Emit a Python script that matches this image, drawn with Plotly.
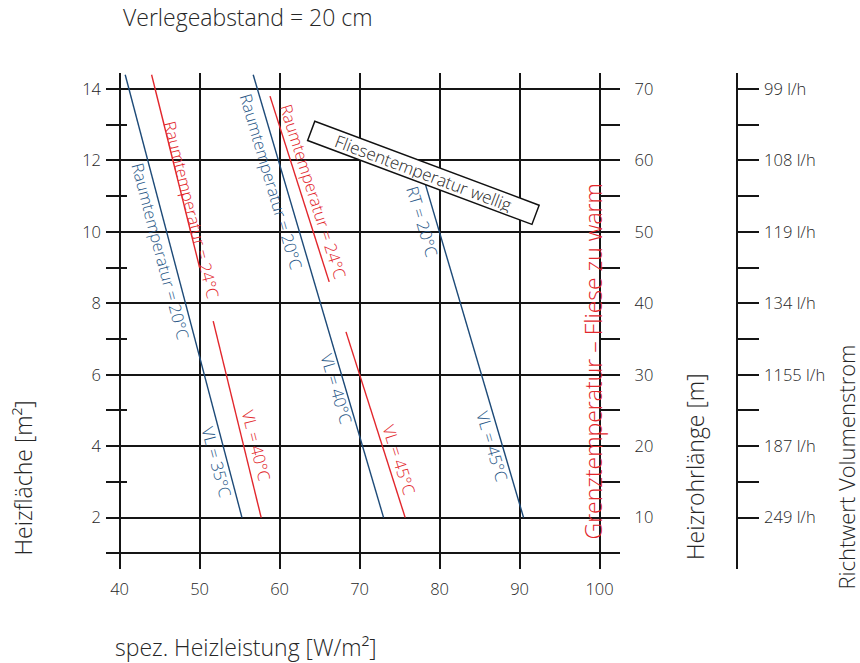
import plotly.graph_objects as go

# ---- Kennlinien: spez. Heizleistung [W/m²] (x) gegen Heizfläche [m²] (y) ----
# Raumtemperatur 20 °C (blau)
rt20_vl35_x = [40.7, 55.3]
rt20_vl35_y = [14.4, 2.0]
rt20_vl40_x = [56.7, 73.0]
rt20_vl40_y = [14.4, 2.0]
rt20_vl45_x = [78.2, 90.5]
rt20_vl45_y = [11.35, 2.0]

# Raumtemperatur 24 °C (rot), jeweils oberer und unterer Abschnitt
rt24_vl40_oben_x = [44.0, 50.0]
rt24_vl40_oben_y = [14.4, 9.0]
rt24_vl40_unten_x = [51.7, 57.7]
rt24_vl40_unten_y = [7.5, 2.0]
rt24_vl45_oben_x = [58.8, 66.2]
rt24_vl45_oben_y = [13.8, 8.6]
rt24_vl45_unten_x = [68.3, 75.7]
rt24_vl45_unten_y = [7.2, 2.0]

# ---- Achsen ----
leistung_ticks = [40, 50, 60, 70, 80, 90, 100]
flaeche_ticks = [1, 2, 4, 6, 8, 10, 12, 14]
flaeche_labels = ["", "2", "4", "6", "8", "10", "12", "14"]
rohr_ticks = [2, 4, 6, 8, 10, 12, 14]
rohr_labels = ["10", "20", "30", "40", "50", "60", "70"]
volumen_ticks = list(range(2, 15))
volumen_labels = ["249 l/h", "", "187 l/h", "", "1155 l/h", "", "134 l/h", "",
                  "119 l/h", "", "108 l/h", "", "99 l/h"]

FONT = "Open Sans"
WEIGHT = 300
GREY = "#262626"
BLUE = "#1d4a78"
BLUE_TXT = "#2a5988"
RED = "#e2262c"
GRID = "#151515"

X_RANGE = [38.3, 102.49]
Y_RANGE = [0.562, 14.448]

W, H = 860, 663
ML, MR, MT, MB = 106, 10, 73, 94
PW, PH = W - ML - MR, H - MT - MB


def px(xp):
    return (xp - ML) / PW


def py(yp):
    return (H - MB - yp) / PH


fig = go.Figure()

blue_sets = [(rt20_vl35_x, rt20_vl35_y), (rt20_vl40_x, rt20_vl40_y),
             (rt20_vl45_x, rt20_vl45_y)]
red_sets = [(rt24_vl40_oben_x, rt24_vl40_oben_y), (rt24_vl40_unten_x, rt24_vl40_unten_y),
            (rt24_vl45_oben_x, rt24_vl45_oben_y), (rt24_vl45_unten_x, rt24_vl45_unten_y)]

for xs, ys in blue_sets:
    fig.add_trace(go.Scatter(x=xs, y=ys, mode="lines",
                             line=dict(color=BLUE, width=1.4),
                             hoverinfo="skip", showlegend=False))
for xs, ys in red_sets:
    fig.add_trace(go.Scatter(x=xs, y=ys, mode="lines",
                             line=dict(color=RED, width=1.4),
                             hoverinfo="skip", showlegend=False))

# Dummy traces so that the secondary axes are rendered
fig.add_trace(go.Scatter(x=[None], y=[None], yaxis="y2", showlegend=False, hoverinfo="skip"))
fig.add_trace(go.Scatter(x=[None], y=[None], yaxis="y3", showlegend=False, hoverinfo="skip"))

# Line labels (text, x, y, angle, colour)
line_labels = [
    ("Raumtemperatur = 20°C", 45.18, 9.46, 75.2, BLUE_TXT),
    ("Raumtemperatur = 24°C", 49.1, 10.61, 76.0, RED),
    ("Raumtemperatur = 20°C", 59.01, 11.42, 73.6, BLUE_TXT),
    ("Raumtemperatur = 24°C", 64.2, 11.12, 72.3, RED),
    ("RT = 20°C", 77.86, 10.29, 73.5, BLUE_TXT),
    ("VL = 35°C", 52.14, 3.57, 75.2, BLUE_TXT),
    ("VL = 40°C", 57.1, 4.01, 76.0, RED),
    ("VL = 40°C", 67.14, 5.62, 73.6, BLUE_TXT),
    ("VL = 45°C", 75.0, 3.64, 72.3, RED),
    ("VL = 45°C", 86.61, 3.99, 73.5, BLUE_TXT),
]
annotations = []
for txt, x, y, ang, col in line_labels:
    annotations.append(dict(text=txt, x=x, y=y, xref="x", yref="y", showarrow=False,
                            textangle=ang, xanchor="center", yanchor="middle",
                            font=dict(family=FONT, size=16.5, color=col, weight=WEIGHT)))

# Hinweisbox
annotations.append(dict(text="Fliesentemperatur wellig", x=78.03, y=11.66, xref="x", yref="y",
                        showarrow=False, textangle=20.5, width=236, height=17,
                        bgcolor="white", bordercolor="#111", borderwidth=1.5, borderpad=1,
                        font=dict(family=FONT, size=17, color=GREY, weight=WEIGHT)))

# Titles
title_font = dict(family=FONT, size=23, color=GREY, weight=WEIGHT)
annotations += [
    dict(text="Verlegeabstand = 20 cm", x=px(248), y=py(17), xref="paper", yref="paper",
         showarrow=False, xanchor="center", yanchor="middle", font=title_font),
    dict(text="spez. Heizleistung [W/m²]", x=px(246), y=py(647), xref="paper", yref="paper",
         showarrow=False, xanchor="center", yanchor="middle", font=title_font),
    dict(text="Heizfläche [m²]", x=px(22.5), y=py(478), xref="paper", yref="paper",
         showarrow=False, xanchor="center", yanchor="middle", textangle=-90,
         font=title_font),
    dict(text="Grenztemperatur – Fliese zu warm", x=px(592), y=py(361.5), xref="paper",
         yref="paper", showarrow=False, xanchor="center", yanchor="middle", textangle=-90,
         font=dict(family=FONT, size=23, color=RED, weight=WEIGHT)),
    dict(text="Heizrohrlänge [m]", x=px(695), y=py(467), xref="paper", yref="paper",
         showarrow=False, xanchor="center", yanchor="middle", textangle=-90,
         font=title_font),
    dict(text="Richtwert Volumenstrom", x=px(845), y=py(467.5), xref="paper", yref="paper",
         showarrow=False, xanchor="center", yanchor="middle", textangle=-90,
         font=dict(family=FONT, size=22, color=GREY, weight=WEIGHT)),
]

tick_font = dict(family=FONT, size=16.5, color=GREY, weight=WEIGHT)
x_dom_end = (619.5 - ML) / PW

fig.update_layout(
    width=W, height=H,
    margin=dict(l=ML, r=MR, t=MT, b=MB),
    paper_bgcolor="white", plot_bgcolor="white",
    showlegend=False,
    annotations=annotations,
    xaxis=dict(domain=[0, x_dom_end], range=X_RANGE, tickvals=leistung_ticks,
               showgrid=True, gridcolor=GRID, gridwidth=1.6, zeroline=False,
               showline=False, ticks="", tickfont=tick_font, ticklabelstandoff=8,
               fixedrange=True),
    yaxis=dict(range=Y_RANGE, tickvals=flaeche_ticks, ticktext=flaeche_labels,
               showgrid=True, gridcolor=GRID, gridwidth=1.6, zeroline=False,
               showline=False, ticks="", tickfont=tick_font, ticklabelstandoff=4,
               minor=dict(ticks="inside", tick0=1, dtick=2, ticklen=21,
                          tickwidth=1.6, tickcolor=GRID),
               fixedrange=True),
    yaxis2=dict(range=Y_RANGE, overlaying="y", anchor="x", side="right",
                tickvals=rohr_ticks, ticktext=rohr_labels, showgrid=False,
                zeroline=False, showline=False, ticks="", tickfont=tick_font,
                ticklabelstandoff=14,
                minor=dict(ticks="inside", tick0=1, dtick=2, ticklen=20,
                           tickwidth=1.6, tickcolor=GRID),
                fixedrange=True),
    yaxis3=dict(range=Y_RANGE, overlaying="y", anchor="free", side="right",
                position=(737 - ML) / PW, tickvals=volumen_ticks, ticktext=volumen_labels,
                showgrid=False, zeroline=False, showline=True, linecolor=GRID,
                linewidth=1.6, ticks="outside", ticklen=21, tickwidth=1.6,
                tickcolor=GRID, tickfont=tick_font, ticklabelstandoff=2,
                fixedrange=True),
)

fig.write_html("out.html")
